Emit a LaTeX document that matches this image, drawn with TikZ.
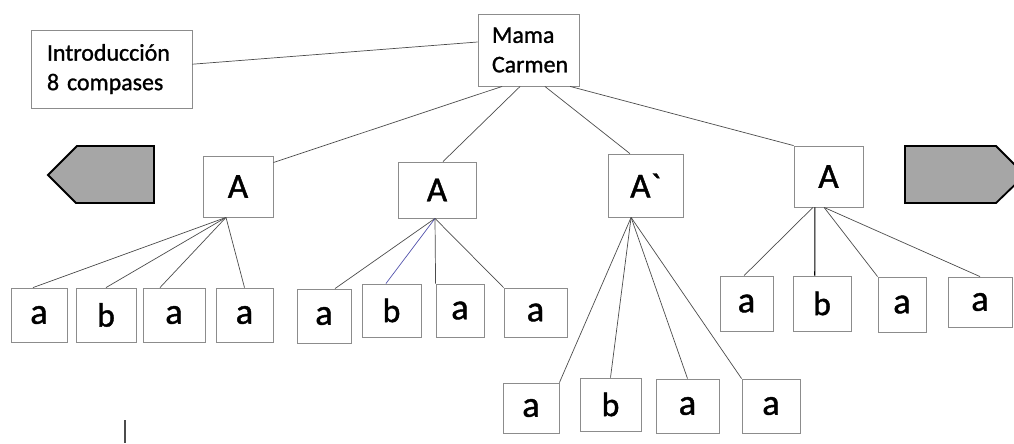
\documentclass[tikz,border=0pt]{standalone}
\usepackage{fontspec}
\setmainfont{Carlito}[UprightFeatures={FakeBold=1.2}]
\begin{document}
\begin{tikzpicture}[x=0.025cm, y=-0.025cm,
    box/.style={draw=gray!90, line width=0.6pt, inner sep=0pt},
    part/.style={box, font=\fontsize{25}{29}\selectfont},
    leafa/.style={box, font=\fontsize{26}{30}\selectfont},
    leafb/.style={box, font=\fontsize{24}{28}\selectfont},
    edge/.style={draw=black!70, line width=0.5pt},
    tab/.style={draw=black, line width=1.3pt, fill=gray!70, line join=miter}]
    \useasboundingbox (0,0) rectangle (1014,443);
    \clip (0,0) rectangle (1014,443);

    % Nodes
    \node (intro) [box, align=left, text width=3.225cm, inner xsep=0.4cm, minimum height=1.95cm, font=\fontsize{17}{21}\selectfont] at (111.5,69) {Introducción\\8 compases};
    \node (mama) [box, align=left, text width=1.825cm, inner xsep=0.35cm, minimum height=1.8cm, font=\fontsize{17}{21}\selectfont] at (528.5,50) {Mama\\Carmen};

    \node (A1) [part, minimum width=1.75cm, minimum height=1.525cm] at (238,186.5) {A};
    \node (A2) [part, minimum width=1.95cm, minimum height=1.4cm] at (437,190) {A};
    \node (A3) [part, minimum width=1.875cm, minimum height=1.575cm] at (645.5,185.5) {A\textasciigrave};
    \node (A4) [part, minimum width=1.725cm, minimum height=1.525cm] at (828.5,176.5) {A};

    \node (a11) [leafa, minimum width=1.4cm, minimum height=1.35cm] at (39,315) {a};
    \node (b12) [leafb, minimum width=1.5cm, minimum height=1.35cm] at (106,315) {b};
    \node (a13) [leafa, minimum width=1.55cm, minimum height=1.35cm] at (174,315) {a};
    \node (a14) [leafa, minimum width=1.425cm, minimum height=1.35cm] at (244.5,315) {a};

    \node (a21) [leafa, minimum width=1.35cm, minimum height=1.35cm] at (324,316) {a};
    \node (b22) [leafb, minimum width=1.475cm, minimum height=1.325cm] at (391.5,310.5) {b};
    \node (a23) [leafa, minimum width=1.2cm, minimum height=1.325cm] at (460,310.5) {a};
    \node (a24) [leafa, minimum width=1.575cm, minimum height=1.225cm] at (535.5,312.5) {a};

    \node (a31) [leafa, minimum width=1.4cm, minimum height=1.25cm] at (531,408) {a};
    \node (b32) [leafb, minimum width=1.525cm, minimum height=1.325cm] at (610.5,404.5) {b};
    \node (a33) [leafa, minimum width=1.575cm, minimum height=1.35cm] at (687.5,406) {a};
    \node (a34) [leafa, minimum width=1.45cm, minimum height=1.35cm] at (771,406) {a};

    \node (a41) [leafa, minimum width=1.325cm, minimum height=1.375cm] at (746.5,303.5) {a};
    \node (b42) [leafb, minimum width=1.45cm, minimum height=1.375cm] at (822,303.5) {b};
    \node (a43) [leafa, minimum width=1.2cm, minimum height=1.375cm] at (902,304.5) {a};
    \node (a44) [leafa, minimum width=1.6cm, minimum height=1.25cm] at (980,302) {a};

    % Edges
    \draw[edge] ([yshift=0.12cm]intro.east) -- ([yshift=0.2cm]mama.west);
    \draw[edge] ([xshift=-0.66cm]mama.south) -- ([yshift=0.6cm]A1.east);
    \draw[edge] ([xshift=-0.21cm]mama.south) -- ([xshift=0.15cm]A2.north);
    \draw[edge] ([xshift=0.41cm]mama.south) -- ([xshift=-0.39cm]A3.north);
    \draw[edge] ([xshift=1.04cm]mama.south) -- (A4.north west);

    \draw[edge] ([xshift=-0.3cm]A1.south) -- ([xshift=-0.15cm]a11.north);
    \draw[edge] ([xshift=-0.3cm]A1.south) -- (b12.north);
    \draw[edge] ([xshift=-0.3cm]A1.south) -- ([xshift=-0.35cm]a13.north);
    \draw[edge] ([xshift=-0.3cm]A1.south) -- (a14.north);

    \draw[edge] ([xshift=-0.05cm]A2.south) -- ([xshift=0.275cm]a21.north);
    \draw[edge, draw=blue!35!gray] ([xshift=-0.05cm]A2.south) -- ([xshift=-0.14cm]b22.north);
    \draw[edge] ([xshift=-0.05cm]A2.south) -- (a23.north west);
    \draw[edge] ([xshift=-0.05cm]A2.south) -- (a24.north west);

    \draw[edge] ([xshift=-0.36cm]A3.south) -- (a31.north east);
    \draw[edge] ([xshift=-0.36cm]A3.south) -- (b32.north);
    \draw[edge] ([xshift=-0.36cm]A3.south) -- (a33.north);
    \draw[edge] ([xshift=-0.36cm]A3.south) -- (a34.north west);

    \draw[edge] ([xshift=-0.39cm]A4.south) -- ([xshift=-0.06cm]a41.north);
    \draw[edge, draw=black, line width=0.8pt] ([xshift=-0.34cm]A4.south) -- ([xshift=-0.18cm]b42.north);
    \draw[edge] ([xshift=-0.11cm]A4.south) -- (a43.north west);
    \draw[edge] ([xshift=-0.11cm]A4.south) -- (a44.north);

    % Tabs
    \draw[tab] (77,146) -- (154,146) -- (154,203) -- (76,203) -- (48,175) -- cycle;
    \draw[tab] (905,146) -- (996,146) -- (1025,175) -- (996,203) -- (905,203) -- cycle;
    \draw[black!70, line width=1pt] (125,420) -- (125,443);
\end{tikzpicture}
\end{document}
